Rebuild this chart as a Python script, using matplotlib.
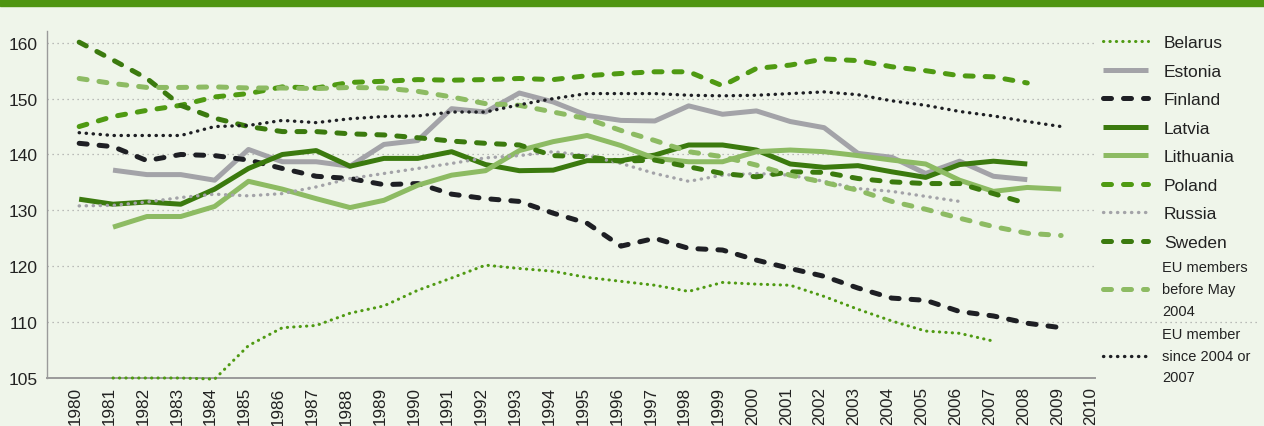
import numpy as np
import matplotlib.pyplot as plt
from matplotlib.patches import Rectangle
from matplotlib.transforms import ScaledTranslation

plt.rcParams['font.family'] = ['Liberation Sans', 'DejaVu Sans']

nan = np.nan
years = np.arange(1980, 2010)

belarus = [nan, 105.0, 105.0, 105.0, 104.9, 107.9, 109.5, 109.7, 111.6, 112.9,
           115.7, 117.9, 120.2, 119.6, 119.1, 118.0, 117.3, 116.6, 115.5, 117.1,
           116.8, 116.6, 114.6, 112.3, 110.2, 109.2, 109.0, 108.3, nan, nan]
estonia = [nan, 137.2, 136.4, 136.4, 135.4, 140.9, 138.7, 138.7, 137.9, 141.8,
           142.5, 148.2, 147.6, 151.0, 149.4, 147.0, 146.1, 146.0, 148.7, 147.2,
           147.8, 145.9, 144.8, 140.2, 139.5, 136.6, 138.8, 136.1, 135.5, nan]
finland = [142.0, 141.4, 138.9, 140.0, 139.8, 139.0, 137.5, 136.1, 135.7, 134.6,
           134.8, 132.9, 132.1, 131.6, 129.5, 127.7, 123.6, 125.0, 123.2, 122.9,
           121.1, 119.6, 118.2, 116.1, 114.3, 113.9, 111.9, 111.1, 109.9, 109.5]
latvia = [132.0, 131.1, 131.5, 131.1, 133.8, 137.5, 140.0, 140.7, 137.9, 139.3,
          139.3, 140.5, 138.2, 137.1, 137.2, 138.9, 138.9, 139.9, 141.7, 141.7,
          140.8, 138.3, 137.7, 138.0, 136.9, 135.9, 138.2, 138.8, 138.3, nan]
lithuania = [nan, 127.0, 128.9, 128.9, 130.7, 135.2, 133.8, 132.1, 130.5, 131.8,
             134.5, 136.3, 137.1, 140.7, 142.3, 143.4, 141.6, 139.3, 138.7, 138.7,
             140.5, 140.8, 140.5, 139.8, 139.0, 138.3, 135.4, 133.4, 134.1, 133.8]
poland = [145.0, 146.8, 147.9, 148.8, 150.3, 150.9, 152.1, 151.9, 152.9, 153.1,
          153.4, 153.3, 153.4, 153.6, 153.4, 154.1, 154.5, 154.8, 154.8, 152.3,
          155.4, 156.0, 157.1, 156.8, 155.7, 155.0, 154.1, 153.9, 152.8, nan]
russia = [130.8, 130.9, 131.5, 132.3, 132.9, 132.6, 133.0, 134.2, 135.7, 136.6,
          137.5, 138.4, 139.4, 139.8, 140.5, 139.8, 138.4, 136.6, 135.2, 136.3,
          136.6, 136.3, 135.2, 133.9, 133.4, 132.5, 131.6, nan, nan, nan]
sweden = [160.1, 156.9, 153.6, 148.8, 146.5, 145.0, 144.1, 144.1, 143.7, 143.5,
          143.0, 142.4, 142.0, 141.7, 139.8, 139.6, 138.8, 139.0, 137.8, 136.6,
          136.0, 136.9, 136.8, 135.7, 135.1, 134.8, 134.8, 133.0, 131.2, nan]
eu_before = [153.6, 152.7, 152.0, 152.0, 152.1, 151.9, 151.9, 151.8, 152.0, 151.9,
             151.3, 150.3, 149.1, 148.8, 147.6, 146.4, 144.3, 142.5, 140.5, 139.6,
             138.1, 136.3, 135.0, 133.6, 131.6, 130.2, 128.6, 127.1, 125.9, 125.5]
eu_since = [143.9, 143.4, 143.4, 143.4, 145.0, 145.2, 146.1, 145.7, 146.4, 146.8,
            146.9, 147.6, 147.6, 148.9, 150.0, 150.9, 150.9, 150.9, 150.6, 150.5,
            150.6, 150.9, 151.2, 150.7, 149.6, 148.8, 147.7, 146.9, 145.9, 145.0]

labels = ["Belarus", "Estonia", "Finland", "Latvia", "Lithuania", "Poland",
          "Russia", "Sweden", "EU members\nbefore May\n2004",
          "EU member\nsince 2004 or\n2007"]
series = [belarus, estonia, finland, latvia, lithuania, poland,
          russia, sweden, eu_before, eu_since]

green = "#4f9a12"
dark_green = "#3b7a0e"
light_green = "#8dbb63"
grey = "#a3a3a8"
black = "#1e1f24"

dashed = (0, (1.6, 2.4))
dotted = (0, (0.1, 2.0))
styles = [
    dict(color=green, lw=2.2, ls=dotted),
    dict(color=grey, lw=3.6, ls="-"),
    dict(color=black, lw=3.6, ls=dashed),
    dict(color=dark_green, lw=3.6, ls="-"),
    dict(color=light_green, lw=3.6, ls="-"),
    dict(color=green, lw=3.6, ls=dashed),
    dict(color=grey, lw=2.4, ls=dotted),
    dict(color=dark_green, lw=3.6, ls=dashed),
    dict(color=light_green, lw=3.6, ls=dashed),
    dict(color=black, lw=2.4, ls=dotted),
]

bg = "#eff5ea"


# axis below 110 is stretched: 105..110 takes the room of 10 units
def forward(y):
    y = np.asarray(y, dtype=float)
    return np.where(y >= 110, y, 110 - 2 * (110 - y))


def inverse(z):
    z = np.asarray(z, dtype=float)
    return np.where(z >= 110, z, 110 - (110 - z) / 2)


fig = plt.figure(figsize=(12.64, 4.27), dpi=100, facecolor=bg)
ax = fig.add_axes([47 / 1264, 1 - 379 / 427, 1048 / 1264, 347 / 427])
ax.set_facecolor(bg)
ax.set_yscale("function", functions=(forward, inverse))

lines = []
for vals, lab, st in zip(series, labels, styles):
    ln, = ax.plot(years, vals, label=lab, color=st["color"], lw=st["lw"],
                  linestyle=st["ls"], dash_capstyle="round",
                  solid_capstyle="butt", solid_joinstyle="round",
                  zorder=3, clip_on=False)
    lines.append(ln)

yticks = [105, 110, 120, 130, 140, 150, 160]
ax.set_yticks(yticks)
ax.set_yticklabels([str(t) for t in yticks])
ax.set_ylim(105, 162.1)
ax.set_xlim(1979.05, 2010.0)
ax.set_xticks(np.arange(1980, 2011))
ax.tick_params(axis="x", rotation=90, length=0, pad=6, labelsize=12.3,
               labelcolor="#222222")
ax.tick_params(axis="y", length=0, pad=7, labelsize=12.5, labelcolor="#222222")
shift = ScaledTranslation(-4 / 100, 0, fig.dpi_scale_trans)
for lbl in ax.get_xticklabels():
    lbl.set_transform(lbl.get_transform() + shift)

for t in yticks[1:]:
    ax.axhline(t, color="#a8a8a8", lw=0.9, ls=(0, (1, 3)), zorder=0)
ax.axhline(110, xmin=1.0, xmax=1.155, color="#a8a8a8", lw=0.9,
           ls=(0, (1, 3)), zorder=0, clip_on=False)

for side in ["top", "right"]:
    ax.spines[side].set_visible(False)
ax.spines["left"].set_color("#9a9a9a")
ax.spines["left"].set_linewidth(1.0)
ax.spines["bottom"].set_color("#9a9a9a")
ax.spines["bottom"].set_linewidth(1.4)

leg1 = ax.legend(lines[:8], labels[:8], loc="upper left",
                 bbox_to_anchor=(1103 / 1264, 1 - 36 / 427),
                 bbox_transform=fig.transFigure, frameon=False, fontsize=12.5,
                 handlelength=2.6, handletextpad=0.9, labelspacing=0.77,
                 borderpad=0, borderaxespad=0)
ax.add_artist(leg1)
leg2 = ax.legend(lines[8:], labels[8:], loc="upper left",
                 bbox_to_anchor=(1103 / 1264, 1 - 261 / 427),
                 bbox_transform=fig.transFigure, frameon=False, fontsize=10.5,
                 handlelength=3.0, handletextpad=1.05, labelspacing=0.6,
                 borderpad=0, borderaxespad=0)
for leg in [leg1, leg2]:
    for txt in leg.get_texts():
        txt.set_color("#222222")
for txt in leg2.get_texts():
    txt.set_linespacing(1.72)

fig.patches.append(Rectangle((0, 1 - 7 / 427), 1, 7 / 427,
                             transform=fig.transFigure, color="#4f9512",
                             zorder=0))

plt.savefig("out.png", dpi=100, facecolor=bg)
